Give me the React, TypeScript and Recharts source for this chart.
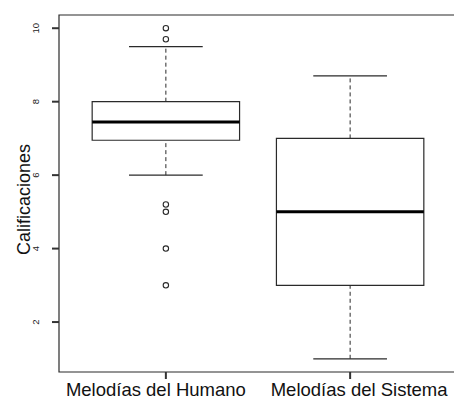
import React from "react";
import {
  ComposedChart,
  XAxis,
  YAxis,
  Scatter,
  ReferenceArea,
  ReferenceLine,
} from "recharts";

const categories = ["Melodías del Humano", "Melodías del Sistema"];
const categoryPos = [1, 2];
const labelShift = [-10, 9];
const whiskerLow = [6.0, 1.0];
const q1 = [6.95, 3.0];
const median = [7.45, 5.0];
const q3 = [8.0, 7.0];
const whiskerHigh = [9.5, 8.7];
const outlierCategory = [1, 1, 1, 1, 1, 1];
const outlierValues = [10, 9.7, 5.2, 5.0, 4.0, 3.0];
const yTicks = [2, 4, 6, 8, 10];
const xDomain = [0.42, 2.58];
const yDomain = [0.64, 10.36];
const yLabel = "Calificaciones";

const BOX_WEX = 0.8;
const STAPLE = 0.4;
const LINE = "#2a2a2a";
const TICK_COLOR = "#333333";
const FONT = "'Liberation Sans', Arial, Helvetica, sans-serif";
const TICK_SIZE = 7;
const TICK_MARGIN = 2;

const outlierData = outlierValues.map((v, i) => ({ x: outlierCategory[i], y: v }));

const YTick = (props: any) => {
  const { x, y, payload } = props;
  const lineStart = Number(x) + TICK_MARGIN;
  const tx = Number(x) - 11;
  return (
    <g>
      <path
        d={`M${lineStart},${y}H${lineStart + TICK_SIZE}`}
        stroke={TICK_COLOR}
        strokeWidth={2}
        fill="none"
      />
      <text
        x={tx}
        y={y}
        transform={`rotate(-90, ${tx}, ${y})`}
        textAnchor="middle"
        fontSize={9.5}
        fontFamily={FONT}
        fill="#222"
      >
        {payload.value}
      </text>
    </g>
  );
};

const XTick = (props: any) => {
  const { x, y, payload } = props;
  const idx = categoryPos.indexOf(payload.value);
  const lineStart = Number(y) - TICK_MARGIN - TICK_SIZE;
  return (
    <g>
      <path
        d={`M${x},${lineStart}V${lineStart + TICK_SIZE}`}
        stroke={TICK_COLOR}
        strokeWidth={2}
        fill="none"
      />
      <text
        x={x + (idx >= 0 ? labelShift[idx] : 0)}
        y={y + 15}
        textAnchor="middle"
        fontSize={18.5}
        fontFamily={FONT}
        fill="#111"
      >
        {idx >= 0 ? categories[idx] : ""}
      </text>
    </g>
  );
};

const YLabel = (props: any) => {
  const { viewBox } = props;
  const lx = viewBox.x + 30;
  const ly = viewBox.y + viewBox.height / 2 + 6;
  return (
    <text
      x={lx}
      y={ly}
      transform={`rotate(-90, ${lx}, ${ly})`}
      textAnchor="middle"
      fontSize={18}
      fontFamily={FONT}
      fill="#111"
    >
      {yLabel}
    </text>
  );
};

export default function App() {
  return (
    <div
      style={{
        position: "absolute",
        left: 0,
        top: 0,
        width: 454,
        height: 407,
        overflow: "hidden",
        background: "#fff",
      }}
    >
      <ComposedChart
        width={457}
        height={407}
        margin={{ top: 15, right: 0, bottom: 0, left: 0 }}
      >
        <XAxis
          dataKey="x"
          type="number"
          domain={xDomain}
          ticks={categoryPos}
          allowDataOverflow
          axisLine={false}
          tickLine={false}
          tickSize={TICK_SIZE}
          tickMargin={TICK_MARGIN}
          height={35}
          tick={<XTick />}
          interval={0}
        />
        <YAxis
          dataKey="y"
          type="number"
          domain={yDomain}
          ticks={yTicks}
          allowDataOverflow
          axisLine={false}
          tickLine={false}
          tickSize={TICK_SIZE}
          tickMargin={TICK_MARGIN}
          width={59}
          tick={<YTick />}
          interval={0}
          label={<YLabel />}
        />
        <ReferenceArea
          x1={xDomain[0]}
          x2={xDomain[1]}
          y1={yDomain[0]}
          y2={yDomain[1]}
          fill="none"
          fillOpacity={0}
          stroke={LINE}
          strokeWidth={1.2}
          ifOverflow="visible"
        />
        {categoryPos.map((c, i) => (
          <React.Fragment key={categories[i]}>
            <ReferenceLine
              segment={[
                { x: c, y: whiskerLow[i] },
                { x: c, y: q1[i] },
              ]}
              stroke={LINE}
              strokeDasharray="4 3"
              strokeWidth={1}
            />
            <ReferenceLine
              segment={[
                { x: c, y: q3[i] },
                { x: c, y: whiskerHigh[i] },
              ]}
              stroke={LINE}
              strokeDasharray="4 3"
              strokeWidth={1}
            />
            <ReferenceLine
              segment={[
                { x: c - STAPLE / 2, y: whiskerLow[i] },
                { x: c + STAPLE / 2, y: whiskerLow[i] },
              ]}
              stroke={LINE}
              strokeWidth={1.2}
            />
            <ReferenceLine
              segment={[
                { x: c - STAPLE / 2, y: whiskerHigh[i] },
                { x: c + STAPLE / 2, y: whiskerHigh[i] },
              ]}
              stroke={LINE}
              strokeWidth={1.2}
            />
            <ReferenceArea
              x1={c - BOX_WEX / 2}
              x2={c + BOX_WEX / 2}
              y1={q1[i]}
              y2={q3[i]}
              fill="#fff"
              fillOpacity={1}
              stroke={LINE}
              strokeWidth={1.2}
            />
            <ReferenceLine
              segment={[
                { x: c - BOX_WEX / 2, y: median[i] },
                { x: c + BOX_WEX / 2, y: median[i] },
              ]}
              stroke="#000"
              strokeWidth={3}
            />
          </React.Fragment>
        ))}
        <Scatter
          data={outlierData}
          isAnimationActive={false}
          shape={(p: any) => (
            <circle cx={p.cx} cy={p.cy} r={2.7} fill="none" stroke={LINE} strokeWidth={1.1} />
          )}
        />
      </ComposedChart>
    </div>
  );
}
